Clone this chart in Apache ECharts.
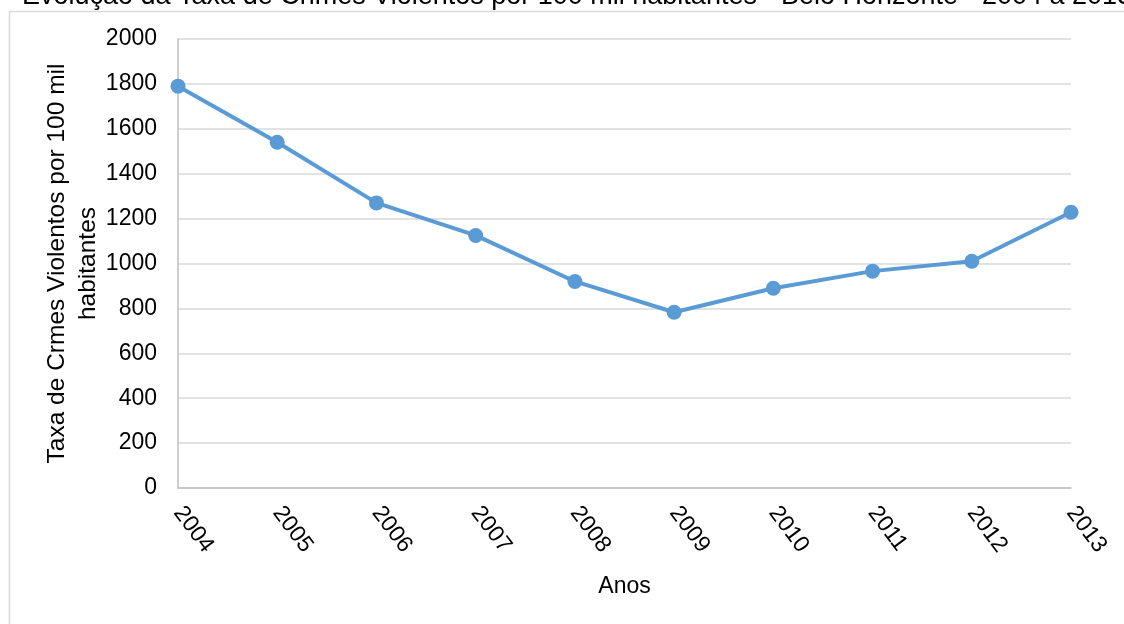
<!DOCTYPE html>
<html>
<head>
<meta charset="utf-8">
<script src="https://cdn.jsdelivr.net/npm/echarts@6/dist/echarts.min.js"></script>
<style>html,body{margin:0;padding:0;background:#fff}#c{width:1124px;height:624px}</style>
</head>
<body>
<div id="c"></div>
<script>
var categories = ['2004','2005','2006','2007','2008','2009','2010','2011','2012','2013'];
var values = [1790, 1540, 1270, 1125, 920, 783, 890, 966, 1010, 1228];
var titleText = 'Evolução da Taxa de Crimes Violentos por 100 mil habitantes - Belo Horizonte - 2004 a 2013';
var yName = 'Taxa de Crmes Violentos por 100 mil\nhabitantes';
var xName = 'Anos';

var chart = echarts.init(document.getElementById('c'));
var font = 'Liberation Sans, Arial, sans-serif';
chart.setOption({
  animation: false,
  textStyle: {fontFamily: font},
  graphic: [{
    type: 'rect', left: 7, top: 9, z: -1,
    shape: {width: 1300, height: 800},
    style: {fill: 'none', stroke: '#d9d9d9', lineWidth: 1.5}
  }],
  title: {
    text: titleText, left: 17, top: -22,
    textStyle: {fontFamily: font, fontSize: 27, fontWeight: 'normal', color: '#000'}
  },
  grid: {left: 178, top: 39, right: 53, bottom: 136},
  xAxis: {
    type: 'category', data: categories, boundaryGap: false,
    name: xName, nameLocation: 'middle', nameGap: 87,
    nameTextStyle: {fontFamily: font, fontSize: 23, color: '#000'},
    axisLine: {lineStyle: {color: '#bfbfbf', width: 1.5}},
    axisTick: {show: false},
    axisLabel: {rotate: -53, fontFamily: font, fontSize: 23, color: '#000', margin: 21},
    splitLine: {show: false}
  },
  yAxis: {
    type: 'value', min: 0, max: 2000, interval: 200,
    name: yName, nameLocation: 'middle', nameGap: 74, nameRotate: 90,
    nameMoveOverlap: false,
    nameTextStyle: {fontFamily: font, fontSize: 24.5, color: '#000', lineHeight: 31},
    axisLine: {show: true, lineStyle: {color: '#bfbfbf', width: 1.5}},
    axisTick: {show: false},
    axisLabel: {fontFamily: font, fontSize: 23, color: '#000', margin: 21,
      formatter: function (v) { return String(v); }},
    splitLine: {lineStyle: {color: '#d9d9d9', width: 1.5}}
  },
  series: [{
    type: 'line', data: values,
    symbol: 'circle', symbolSize: 15,
    lineStyle: {color: '#5b9bd5', width: 4},
    itemStyle: {color: '#5b9bd5'}
  }]
});
</script>
</body>
</html>
